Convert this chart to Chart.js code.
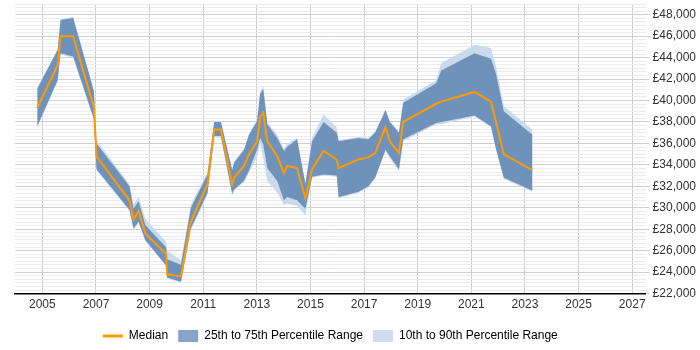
<!DOCTYPE html>
<html>
<head>
<meta charset="utf-8">
<script src="https://cdn.jsdelivr.net/npm/chart.js@4/dist/chart.umd.min.js"></script>
<style>
  html, body { margin: 0; padding: 0; background: #fff; }
  #wrap { width: 700px; height: 350px; }
</style>
</head>
<body>
<div id="wrap"><canvas id="salaryChart" width="700" height="350"></canvas></div>
<script>
// DATA
const years   = [2004.81, 2005.57, 2005.68, 2006.15, 2006.92, 2007.02, 2008.25, 2008.40, 2008.59, 2008.84,
                 2009.62, 2009.65, 2010.17, 2010.54, 2011.16, 2011.41, 2011.66, 2012.08, 2012.15, 2012.52,
                 2012.71, 2013.01, 2013.12, 2013.24, 2013.39, 2013.76, 2014.01, 2014.13, 2014.50, 2014.81,
                 2015.06, 2015.49, 2015.98, 2016.05, 2016.79, 2017.16, 2017.41, 2017.80, 2017.96, 2018.30,
                 2018.46, 2019.69, 2019.88, 2021.12, 2021.73, 2021.92, 2022.21, 2023.28];
const median  = [39300, 43300, 46000, 46000, 39400, 34800, 30700, 28900, 29700, 27600,
                 25700, 23800, 23600, 28700, 32200, 37300, 37300, 32200, 32800, 33900,
                 35000, 36200, 38400, 38900, 36200, 34800, 33200, 33900, 33700, 30900,
                 33600, 35300, 34500, 33700, 34500, 34700, 35100, 37500, 36200, 35100,
                 38000, 39700, 39900, 40800, 39900, 38000, 35000, 33500];
const p25     = [37600, 41900, 44400, 44100, 38300, 33600, 29800, 28100, 28700, 27000,
                 24600, 23500, 23100, 28100, 31400, 36700, 36700, 31300, 31700, 32500,
                 33500, 35400, 36500, 35900, 33700, 32500, 30700, 31000, 30700, 29900,
                 32900, 33100, 33000, 31000, 31500, 32000, 32800, 35400, 34800, 33600,
                 36400, 37900, 38000, 38600, 37600, 35500, 32800, 31600];
const p75     = [41100, 44700, 47500, 47700, 40900, 36000, 32000, 29900, 30600, 28400,
                 26300, 25200, 24700, 30000, 33100, 38000, 38000, 33500, 34200, 35400,
                 36800, 38100, 40600, 41100, 37800, 36500, 35300, 35700, 36400, 32200,
                 36200, 38000, 37000, 36200, 36500, 36400, 37000, 39100, 38000, 37000,
                 39800, 41600, 42800, 44400, 43900, 42500, 39000, 36800];
const p10     = [37500, 41800, 44300, 44000, 38200, 33500, 29700, 27900, 28600, 26900,
                 24600, 23400, 23000, 27900, 31200, 36600, 36500, 31200, 31600, 32400,
                 33300, 34700, 36000, 34700, 32500, 31400, 30300, 30400, 30200, 29300,
                 32800, 33000, 32900, 30900, 31400, 31900, 32700, 35300, 34600, 33400,
                 36200, 37800, 37800, 38500, 37500, 35400, 32700, 31500];
const p90     = [41200, 44800, 47600, 47800, 41000, 36300, 32200, 30300, 31000, 29000,
                 26800, 26000, 25100, 30300, 33300, 38100, 38100, 33600, 34300, 35500,
                 36900, 38200, 40800, 41300, 38000, 36800, 35500, 36000, 36500, 32400,
                 36500, 38700, 37500, 36300, 36600, 36500, 37100, 39200, 38100, 37100,
                 40100, 41900, 43500, 45200, 44900, 43200, 39500, 37300];

const xTicks = [2005, 2007, 2009, 2011, 2013, 2015, 2017, 2019, 2021, 2023, 2025, 2027];
const legendLabels = ['Median', '25th to 75th Percentile Range', '10th to 90th Percentile Range'];

// COLOURS
const orange    = '#ff9900';
const darkBand  = '#6f92bb';
const lightBand = '#c9daec';

const pts = arr => arr.map((v, i) => ({ x: years[i], y: v }));

// legend sits centred under the plot area, not the whole canvas
const legendUnderPlot = {
  id: 'legendUnderPlot',
  afterLayout: (chart) => {
    const lg = chart.legend;
    lg.left = chart.chartArea.left;
    lg.right = chart.chartArea.right;
    lg.top += 4;
    lg.bottom += 4;
  }
};

const ctx = document.getElementById('salaryChart').getContext('2d');
const chart = new Chart(ctx, {
  type: 'line',
  data: {
    datasets: [
      { label: 'Median', data: pts(median), borderColor: orange, borderWidth: 2,
        pointRadius: 0, fill: false, order: 0 },
      { label: 'p75', data: pts(p75), borderWidth: 0, borderColor: 'transparent',
        backgroundColor: darkBand, pointRadius: 0, fill: 2, order: 1 },
      { label: 'p25', data: pts(p25), borderWidth: 0, borderColor: 'transparent',
        pointRadius: 0, fill: false, order: 1 },
      { label: 'p90', data: pts(p90), borderWidth: 0, borderColor: 'transparent',
        backgroundColor: lightBand, pointRadius: 0, fill: 4, order: 2 },
      { label: 'p10', data: pts(p10), borderWidth: 0, borderColor: 'transparent',
        pointRadius: 0, fill: false, order: 2 }
    ]
  },
  plugins: [legendUnderPlot],
  options: {
    responsive: false,
    animation: false,
    layout: { padding: { left: 15, right: 1, top: 4, bottom: 2 } },
    elements: { line: { tension: 0 } },
    scales: {
      x: {
        type: 'linear',
        min: 2003.98,
        max: 2027.5,
        afterBuildTicks: axis => { axis.ticks = xTicks.map(v => ({ value: v })); },
        ticks: {
          color: '#333',
          font: { family: 'Liberation Sans', size: 12 },
          maxRotation: 0,
          padding: 4,
          callback: v => String(v)
        },
        grid: { color: '#cccccc', drawTicks: false },
        border: { color: '#000', width: 1.5 }
      },
      y: {
        position: 'right',
        min: 22000,
        max: 49000,
        afterBuildTicks: axis => {
          const t = [];
          for (let i = 0; i <= 81; i++) t.push({ value: 22000 + i * 2000 / 6 });
          axis.ticks = t;
        },
        afterFit: axis => { axis.paddingTop = 0; axis.paddingBottom = 0; },
        ticks: {
          color: '#333',
          font: { family: 'Liberation Sans', size: 12 },
          padding: 3,
          autoSkip: false,
          callback: v => {
            const r = Math.round(v);
            return r % 2000 === 0 ? '£' + r.toLocaleString('en-GB') : '';
          }
        },
        grid: {
          color: c => Math.round(c.tick.value) % 2000 === 0 ? '#d0d0d0' : '#ececec',
          tickColor: c => Math.round(c.tick.value) % 2000 === 0 ? '#d0d0d0' : 'transparent',
          tickLength: 4
        },
        border: { display: false }
      }
    },
    plugins: {
      legend: {
        position: 'bottom',
        labels: {
          color: '#333',
          font: { family: 'Liberation Sans', size: 12 },
          usePointStyle: true,
          pointStyleWidth: 20,
          boxHeight: 12,
          padding: 10,
          generateLabels: () => [
            { text: legendLabels[0], pointStyle: 'line', strokeStyle: orange, fillStyle: orange, lineWidth: 3, datasetIndex: 0 },
            { text: legendLabels[1], pointStyle: 'rect', fillStyle: '#87a4c6', strokeStyle: '#87a4c6', lineWidth: 0, datasetIndex: 1 },
            { text: legendLabels[2], pointStyle: 'rect', fillStyle: '#cddcee', strokeStyle: '#cddcee', lineWidth: 0, datasetIndex: 3 }
          ]
        }
      },
      tooltip: { enabled: false }
    }
  }
});
</script>
</body>
</html>
